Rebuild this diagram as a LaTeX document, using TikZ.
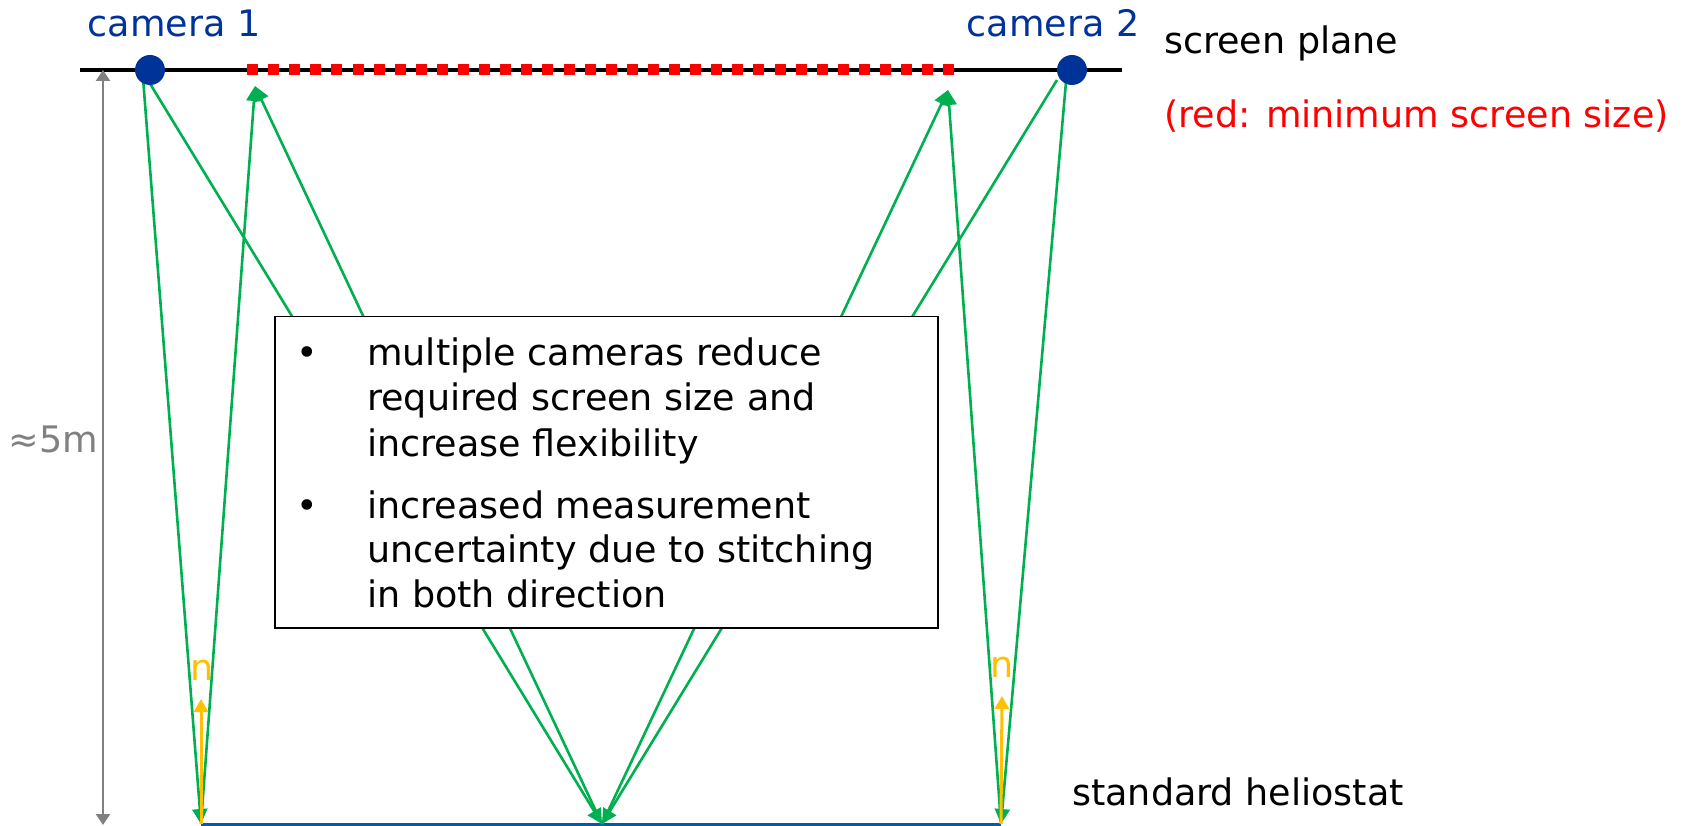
\documentclass[tikz,border=0pt]{standalone}
\usepackage{fontspec}
\setmainfont{DejaVu Sans}
\usetikzlibrary{arrows.meta}
\definecolor{camblue}{RGB}{0,51,153}
\definecolor{raygreen}{RGB}{0,176,80}
\definecolor{normyellow}{RGB}{255,192,0}
\definecolor{helioblue}{RGB}{0,94,160}
\definecolor{dimgray}{RGB}{128,128,128}
\definecolor{minred}{RGB}{255,0,0}
\begin{document}
\begin{tikzpicture}[x=1pt,y=-1pt,
  txt/.style={font=\fontsize{36.5}{44}\selectfont, inner sep=0pt, anchor=base west},
  ray/.style={draw=raygreen, line width=2.6pt, -{Triangle[length=15pt,width=15pt]}},
  cam/.style={circle, fill=camblue, minimum size=30pt, inner sep=0pt},
  normal/.style={draw=normyellow, line width=3pt, -{Triangle[length=13pt,width=14pt]}},
  dimline/.style={draw=dimgray, line width=2.5pt, {Triangle[length=11pt,width=14pt]}-{Triangle[length=11pt,width=14pt]}},
  reddash/.style={fill=minred}
]
\useasboundingbox (0,0) rectangle (1701,826);
% screen plane
\coordinate (SL) at (80,70);
\coordinate (SR) at (1122,70);
\draw[line width=4.3pt] (SL) -- (SR);
\foreach \i in {0,...,33} \fill[reddash] ({247+21.1*\i},64.5) rectangle ++(11,11);
% points
\coordinate (c1) at (150,70);
\coordinate (c2) at (1072,70);
\coordinate (c1a) at (143,78);
\coordinate (c1b) at (149,82);
\coordinate (c2a) at (1057,80);
\coordinate (c2b) at (1066,82);
\coordinate (A) at (255,86);
\coordinate (B) at (948,90);
\coordinate (H1) at (201,824);
\coordinate (H2) at (602,824);
\coordinate (H3) at (1001,824);
% heliostat
\draw[helioblue, line width=3pt] (H1) -- (H3);
% rays
\draw[ray] (c1a) -- (H1);
\draw[ray] (c1b) -- (H2);
\draw[ray] (H1) -- (A);
\draw[ray] (H2) -- (A);
\draw[ray] (c2b) -- (H3);
\draw[ray] (c2a) -- (H2);
\draw[ray] (H3) -- (B);
\draw[ray] (H2) -- (B);
% cameras
\node[cam] (cam1) at (c1) {};
\node[cam] (cam2) at (c2) {};
\node[txt, anchor=base, text=camblue] (cam1lab) at (174,37) {camera 1};
\node[txt, anchor=base, text=camblue] (cam2lab) at (1053,37) {camera 2};
% normals
\coordinate (N1) at (201,699);
\coordinate (N3) at (1002,696);
\draw[normal] (H1) -- (N1);
\draw[normal] (H3) -- (N3);
\node[txt, anchor=base, text=normyellow] (n1lab) at (202,680) {n};
\node[txt, anchor=base, text=normyellow] (n3lab) at (1002,677) {n};
% distance
\coordinate (D1) at (103,70);
\coordinate (D2) at (103,825);
\draw[dimline] (D1) -- (D2);
\node[txt, anchor=base east, text=dimgray] (dlab) at (98,452) {≈5m};
% labels
\node[txt] (splane) at (1164,54) {screen plane};
\node[txt, text=minred] (redlab) at (1164,128) {(red: minimum screen size)};
\node[txt] (hlab) at (1072,805) {standard heliostat};
% box
\node[draw, line width=1.5pt, fill=white, minimum width=663pt, minimum height=311pt, inner sep=0pt, anchor=north west] (box) at (274,316) {};
\node[txt, anchor=base] (b1) at (307,366) {•};
\node[txt] (l1) at (367,366) {multiple cameras reduce};
\node[txt] (l2) at (367,410) {required screen size and};
\node[txt] (l3) at (367,456) {increase flexibility};
\node[txt, anchor=base] (b2) at (307,518) {•};
\node[txt] (l4) at (367,518) {increased measurement};
\node[txt] (l5) at (367,562) {uncertainty due to stitching};
\node[txt] (l6) at (367,607) {in both direction};
\end{tikzpicture}
\end{document}
